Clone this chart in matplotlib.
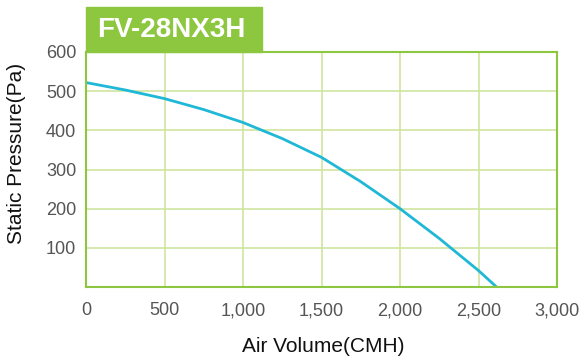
import matplotlib
matplotlib.use("Agg")
import matplotlib.pyplot as plt
from matplotlib.ticker import FuncFormatter
from matplotlib.patches import Rectangle

title = "FV-28NX3H"
air_volume = [0, 250, 500, 750, 1000, 1250, 1500, 1750, 2000, 2250, 2500, 2615]
static_pressure = [522, 503, 481, 453, 420, 379, 331, 269, 200, 124, 42, 0]
x_ticks = [0, 500, 1000, 1500, 2000, 2500, 3000]
y_ticks = [100, 200, 300, 400, 500, 600]

font = ['Liberation Sans', 'DejaVu Sans']
green = '#8dc63f'
grid_green = '#cfe5a0'
line_color = '#1fb8d6'

W, H = 580, 360
fig = plt.figure(figsize=(5.8, 3.6), dpi=100)
ax = fig.add_axes([86/W, 1-287/H, (557-86)/W, (287-52)/H])
ax.plot(air_volume, static_pressure, color=line_color, lw=2.0, solid_capstyle='butt',
        solid_joinstyle='round')
ax.set_xlim(0, 3000)
ax.set_ylim(0, 600)
ax.set_xticks(x_ticks)
ax.set_yticks(y_ticks)
ax.xaxis.set_major_formatter(FuncFormatter(lambda v, p: f"{int(v):,}"))
ax.grid(True, color=grid_green, lw=1.2)
ax.set_axisbelow(True)
for s in ax.spines.values():
    s.set_color(green)
    s.set_linewidth(1.5)
ax.tick_params(axis='y', length=0, pad=7, labelsize=13, colors='#555555')
ax.tick_params(axis='x', length=0, pad=11, labelsize=13, colors='#555555')
for lab in ax.get_xticklabels() + ax.get_yticklabels():
    lab.set_family(font)

fig.text(323/W, 1-347/H, "Air Volume(CMH)", fontsize=15, family=font, color='#111111',
         ha='center', va='center')
fig.text(17/W, 1-153/H, "Static Pressure(Pa)", fontsize=15, family=font, color='#111111',
         ha='center', va='center', rotation=90)

# title tab
fig.patches.append(Rectangle((86/W, 1-52/H), (262-86)/W, (52-7)/H,
                             transform=fig.transFigure, color=green, zorder=5))
fig.text(171/W, 1-30/H, title, ha='center', va='center', color='white',
         fontsize=20, fontweight='bold', family=font, zorder=6)

fig.savefig("out.png", dpi=100)
